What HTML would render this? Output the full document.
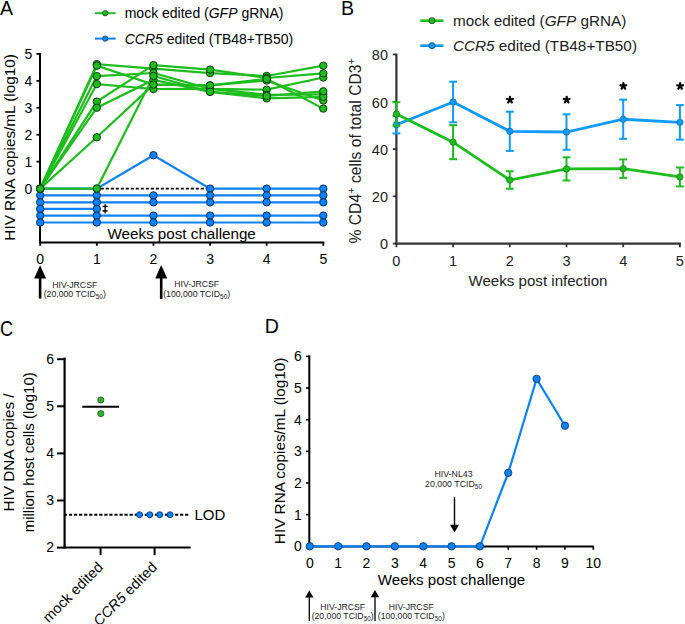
<!DOCTYPE html>
<html><head><meta charset="utf-8"><style>
html,body{margin:0;padding:0;background:#fff;overflow:hidden}
svg{display:block}
</style></head><body>
<svg width="685" height="624" viewBox="0 0 685 624" font-family='"Liberation Sans", sans-serif' fill="#000">
<rect width="685" height="624" fill="#fff"/>
<text x="0" y="15.2" font-size="19.5">A</text>
<line x1="95" y1="13.2" x2="115.7" y2="13.2" stroke="#1dbd1d" stroke-width="2"/>
<circle cx="105.2" cy="13.2" r="2.7" fill="#1dbd1d" stroke="#0d3a0d" stroke-width="0.7"/>
<line x1="95" y1="38.6" x2="115.7" y2="38.6" stroke="#0a82fc" stroke-width="2"/>
<circle cx="105.2" cy="38.6" r="2.7" fill="#0a82fc" stroke="#0a2f5a" stroke-width="0.7"/>
<text x="124.7" y="18.4" font-size="14">mock edited (<tspan font-style="italic">GFP</tspan> gRNA)</text>
<text x="124.7" y="44.1" font-size="14"><tspan font-style="italic">CCR5</tspan> edited (TB48+TB50)</text>
<text transform="translate(14.7,147.4) rotate(-90)" text-anchor="middle" font-size="15.3">HIV RNA copies/mL (log10)</text>
<line x1="40" y1="53.0" x2="40" y2="243.5" stroke="#000" stroke-width="2"/>
<line x1="36.5" y1="188.60" x2="40" y2="188.60" stroke="#000" stroke-width="1.8"/>
<text x="32.3" y="193.60" font-size="14" text-anchor="end">0</text>
<line x1="36.5" y1="161.66" x2="40" y2="161.66" stroke="#000" stroke-width="1.8"/>
<text x="32.3" y="166.66" font-size="14" text-anchor="end">1</text>
<line x1="36.5" y1="134.72" x2="40" y2="134.72" stroke="#000" stroke-width="1.8"/>
<text x="32.3" y="139.72" font-size="14" text-anchor="end">2</text>
<line x1="36.5" y1="107.78" x2="40" y2="107.78" stroke="#000" stroke-width="1.8"/>
<text x="32.3" y="112.78" font-size="14" text-anchor="end">3</text>
<line x1="36.5" y1="80.84" x2="40" y2="80.84" stroke="#000" stroke-width="1.8"/>
<text x="32.3" y="85.84" font-size="14" text-anchor="end">4</text>
<line x1="36.5" y1="53.90" x2="40" y2="53.90" stroke="#000" stroke-width="1.8"/>
<text x="32.3" y="58.90" font-size="14" text-anchor="end">5</text>
<line x1="39" y1="242.5" x2="324.30" y2="242.5" stroke="#000" stroke-width="2"/>
<line x1="40.20" y1="242.5" x2="40.20" y2="245.8" stroke="#000" stroke-width="1.8"/>
<text x="40.20" y="264.4" font-size="14" text-anchor="middle">0</text>
<line x1="96.82" y1="242.5" x2="96.82" y2="245.8" stroke="#000" stroke-width="1.8"/>
<text x="96.82" y="264.4" font-size="14" text-anchor="middle">1</text>
<line x1="153.44" y1="242.5" x2="153.44" y2="245.8" stroke="#000" stroke-width="1.8"/>
<text x="153.44" y="264.4" font-size="14" text-anchor="middle">2</text>
<line x1="210.06" y1="242.5" x2="210.06" y2="245.8" stroke="#000" stroke-width="1.8"/>
<text x="210.06" y="264.4" font-size="14" text-anchor="middle">3</text>
<line x1="266.68" y1="242.5" x2="266.68" y2="245.8" stroke="#000" stroke-width="1.8"/>
<text x="266.68" y="264.4" font-size="14" text-anchor="middle">4</text>
<line x1="323.30" y1="242.5" x2="323.30" y2="245.8" stroke="#000" stroke-width="1.8"/>
<text x="323.30" y="264.4" font-size="14" text-anchor="middle">5</text>
<text x="107.5" y="239.2" font-size="15.2">Weeks post challenge</text>
<polyline points="40.20,188.60 96.82,188.60 153.44,155.20 210.06,188.60 266.68,188.60 323.30,188.60" fill="none" stroke="#0a82fc" stroke-width="2.2"/>
<polyline points="40.20,195.40 96.82,195.40 153.44,195.40 210.06,195.40 266.68,195.40 323.30,195.40" fill="none" stroke="#0a82fc" stroke-width="2.2"/>
<polyline points="40.20,202.30 96.82,202.30 153.44,202.30 210.06,202.30 266.68,202.30 323.30,202.30" fill="none" stroke="#0a82fc" stroke-width="2.2"/>
<polyline points="40.20,208.90 96.82,208.90" fill="none" stroke="#0a82fc" stroke-width="2.2"/>
<polyline points="40.20,215.60 96.82,215.60 153.44,215.60 210.06,215.60 266.68,215.60 323.30,215.60" fill="none" stroke="#0a82fc" stroke-width="2.2"/>
<polyline points="40.20,222.50 96.82,222.50 153.44,222.50 210.06,222.50 266.68,222.50 323.30,222.50" fill="none" stroke="#0a82fc" stroke-width="2.2"/>
<circle cx="40.20" cy="188.60" r="3.7" fill="#0a82fc" stroke="#0a2f5a" stroke-width="1"/>
<circle cx="96.82" cy="188.60" r="3.7" fill="#0a82fc" stroke="#0a2f5a" stroke-width="1"/>
<circle cx="153.44" cy="155.20" r="3.7" fill="#0a82fc" stroke="#0a2f5a" stroke-width="1"/>
<circle cx="210.06" cy="188.60" r="3.7" fill="#0a82fc" stroke="#0a2f5a" stroke-width="1"/>
<circle cx="266.68" cy="188.60" r="3.7" fill="#0a82fc" stroke="#0a2f5a" stroke-width="1"/>
<circle cx="323.30" cy="188.60" r="3.7" fill="#0a82fc" stroke="#0a2f5a" stroke-width="1"/>
<circle cx="40.20" cy="195.40" r="3.7" fill="#0a82fc" stroke="#0a2f5a" stroke-width="1"/>
<circle cx="96.82" cy="195.40" r="3.7" fill="#0a82fc" stroke="#0a2f5a" stroke-width="1"/>
<circle cx="153.44" cy="195.40" r="3.7" fill="#0a82fc" stroke="#0a2f5a" stroke-width="1"/>
<circle cx="210.06" cy="195.40" r="3.7" fill="#0a82fc" stroke="#0a2f5a" stroke-width="1"/>
<circle cx="266.68" cy="195.40" r="3.7" fill="#0a82fc" stroke="#0a2f5a" stroke-width="1"/>
<circle cx="323.30" cy="195.40" r="3.7" fill="#0a82fc" stroke="#0a2f5a" stroke-width="1"/>
<circle cx="40.20" cy="202.30" r="3.7" fill="#0a82fc" stroke="#0a2f5a" stroke-width="1"/>
<circle cx="96.82" cy="202.30" r="3.7" fill="#0a82fc" stroke="#0a2f5a" stroke-width="1"/>
<circle cx="153.44" cy="202.30" r="3.7" fill="#0a82fc" stroke="#0a2f5a" stroke-width="1"/>
<circle cx="210.06" cy="202.30" r="3.7" fill="#0a82fc" stroke="#0a2f5a" stroke-width="1"/>
<circle cx="266.68" cy="202.30" r="3.7" fill="#0a82fc" stroke="#0a2f5a" stroke-width="1"/>
<circle cx="323.30" cy="202.30" r="3.7" fill="#0a82fc" stroke="#0a2f5a" stroke-width="1"/>
<circle cx="40.20" cy="208.90" r="3.7" fill="#0a82fc" stroke="#0a2f5a" stroke-width="1"/>
<circle cx="96.82" cy="208.90" r="3.7" fill="#0a82fc" stroke="#0a2f5a" stroke-width="1"/>
<circle cx="40.20" cy="215.60" r="3.7" fill="#0a82fc" stroke="#0a2f5a" stroke-width="1"/>
<circle cx="96.82" cy="215.60" r="3.7" fill="#0a82fc" stroke="#0a2f5a" stroke-width="1"/>
<circle cx="153.44" cy="215.60" r="3.7" fill="#0a82fc" stroke="#0a2f5a" stroke-width="1"/>
<circle cx="210.06" cy="215.60" r="3.7" fill="#0a82fc" stroke="#0a2f5a" stroke-width="1"/>
<circle cx="266.68" cy="215.60" r="3.7" fill="#0a82fc" stroke="#0a2f5a" stroke-width="1"/>
<circle cx="323.30" cy="215.60" r="3.7" fill="#0a82fc" stroke="#0a2f5a" stroke-width="1"/>
<circle cx="40.20" cy="222.50" r="3.7" fill="#0a82fc" stroke="#0a2f5a" stroke-width="1"/>
<circle cx="96.82" cy="222.50" r="3.7" fill="#0a82fc" stroke="#0a2f5a" stroke-width="1"/>
<circle cx="153.44" cy="222.50" r="3.7" fill="#0a82fc" stroke="#0a2f5a" stroke-width="1"/>
<circle cx="210.06" cy="222.50" r="3.7" fill="#0a82fc" stroke="#0a2f5a" stroke-width="1"/>
<circle cx="266.68" cy="222.50" r="3.7" fill="#0a82fc" stroke="#0a2f5a" stroke-width="1"/>
<circle cx="323.30" cy="222.50" r="3.7" fill="#0a82fc" stroke="#0a2f5a" stroke-width="1"/>
<line x1="100.82" y1="188.6" x2="206.06" y2="188.6" stroke="#000" stroke-width="1.7" stroke-dasharray="3,2"/>
<line x1="105.1" y1="204.3" x2="105.1" y2="213.6" stroke="#000" stroke-width="1.3"/>
<line x1="102.6" y1="206.4" x2="107.6" y2="206.4" stroke="#000" stroke-width="1.5"/>
<line x1="102.6" y1="210.9" x2="107.6" y2="210.9" stroke="#000" stroke-width="1.5"/>
<polyline points="40.20,188.60 96.82,64.10 153.44,68.70 210.06,73.10 266.68,76.00 323.30,65.70" fill="none" stroke="#1dbd1d" stroke-width="2.2"/>
<polyline points="40.20,188.60 96.82,65.70 153.44,84.60 210.06,85.40 266.68,80.50 323.30,100.50" fill="none" stroke="#1dbd1d" stroke-width="2.2"/>
<polyline points="40.20,188.60 96.82,76.10 153.44,73.00 210.06,88.90 266.68,89.70 323.30,77.50" fill="none" stroke="#1dbd1d" stroke-width="2.2"/>
<polyline points="40.20,188.60 96.82,84.10 153.44,89.00 210.06,88.90 266.68,94.80 323.30,94.30" fill="none" stroke="#1dbd1d" stroke-width="2.2"/>
<polyline points="40.20,188.60 96.82,101.60 153.44,65.10 210.06,69.60 266.68,78.00 323.30,73.40" fill="none" stroke="#1dbd1d" stroke-width="2.2"/>
<polyline points="40.20,188.60 96.82,107.70 153.44,80.00 210.06,91.80 266.68,98.40 323.30,96.90" fill="none" stroke="#1dbd1d" stroke-width="2.2"/>
<polyline points="40.20,188.60 96.82,137.30 153.44,84.60 210.06,85.40 266.68,79.00 323.30,108.60" fill="none" stroke="#1dbd1d" stroke-width="2.2"/>
<polyline points="40.20,188.60 96.82,188.60 153.44,76.00 210.06,91.80 266.68,96.00 323.30,91.30" fill="none" stroke="#1dbd1d" stroke-width="2.2"/>
<circle cx="40.20" cy="188.60" r="3.7" fill="#1dbd1d" stroke="#0d3a0d" stroke-width="1"/>
<circle cx="96.82" cy="64.10" r="3.7" fill="#1dbd1d" stroke="#0d3a0d" stroke-width="1"/>
<circle cx="153.44" cy="68.70" r="3.7" fill="#1dbd1d" stroke="#0d3a0d" stroke-width="1"/>
<circle cx="210.06" cy="73.10" r="3.7" fill="#1dbd1d" stroke="#0d3a0d" stroke-width="1"/>
<circle cx="266.68" cy="76.00" r="3.7" fill="#1dbd1d" stroke="#0d3a0d" stroke-width="1"/>
<circle cx="323.30" cy="65.70" r="3.7" fill="#1dbd1d" stroke="#0d3a0d" stroke-width="1"/>
<circle cx="40.20" cy="188.60" r="3.7" fill="#1dbd1d" stroke="#0d3a0d" stroke-width="1"/>
<circle cx="96.82" cy="65.70" r="3.7" fill="#1dbd1d" stroke="#0d3a0d" stroke-width="1"/>
<circle cx="153.44" cy="84.60" r="3.7" fill="#1dbd1d" stroke="#0d3a0d" stroke-width="1"/>
<circle cx="210.06" cy="85.40" r="3.7" fill="#1dbd1d" stroke="#0d3a0d" stroke-width="1"/>
<circle cx="266.68" cy="80.50" r="3.7" fill="#1dbd1d" stroke="#0d3a0d" stroke-width="1"/>
<circle cx="323.30" cy="100.50" r="3.7" fill="#1dbd1d" stroke="#0d3a0d" stroke-width="1"/>
<circle cx="40.20" cy="188.60" r="3.7" fill="#1dbd1d" stroke="#0d3a0d" stroke-width="1"/>
<circle cx="96.82" cy="76.10" r="3.7" fill="#1dbd1d" stroke="#0d3a0d" stroke-width="1"/>
<circle cx="153.44" cy="73.00" r="3.7" fill="#1dbd1d" stroke="#0d3a0d" stroke-width="1"/>
<circle cx="210.06" cy="88.90" r="3.7" fill="#1dbd1d" stroke="#0d3a0d" stroke-width="1"/>
<circle cx="266.68" cy="89.70" r="3.7" fill="#1dbd1d" stroke="#0d3a0d" stroke-width="1"/>
<circle cx="323.30" cy="77.50" r="3.7" fill="#1dbd1d" stroke="#0d3a0d" stroke-width="1"/>
<circle cx="40.20" cy="188.60" r="3.7" fill="#1dbd1d" stroke="#0d3a0d" stroke-width="1"/>
<circle cx="96.82" cy="84.10" r="3.7" fill="#1dbd1d" stroke="#0d3a0d" stroke-width="1"/>
<circle cx="153.44" cy="89.00" r="3.7" fill="#1dbd1d" stroke="#0d3a0d" stroke-width="1"/>
<circle cx="210.06" cy="88.90" r="3.7" fill="#1dbd1d" stroke="#0d3a0d" stroke-width="1"/>
<circle cx="266.68" cy="94.80" r="3.7" fill="#1dbd1d" stroke="#0d3a0d" stroke-width="1"/>
<circle cx="323.30" cy="94.30" r="3.7" fill="#1dbd1d" stroke="#0d3a0d" stroke-width="1"/>
<circle cx="40.20" cy="188.60" r="3.7" fill="#1dbd1d" stroke="#0d3a0d" stroke-width="1"/>
<circle cx="96.82" cy="101.60" r="3.7" fill="#1dbd1d" stroke="#0d3a0d" stroke-width="1"/>
<circle cx="153.44" cy="65.10" r="3.7" fill="#1dbd1d" stroke="#0d3a0d" stroke-width="1"/>
<circle cx="210.06" cy="69.60" r="3.7" fill="#1dbd1d" stroke="#0d3a0d" stroke-width="1"/>
<circle cx="266.68" cy="78.00" r="3.7" fill="#1dbd1d" stroke="#0d3a0d" stroke-width="1"/>
<circle cx="323.30" cy="73.40" r="3.7" fill="#1dbd1d" stroke="#0d3a0d" stroke-width="1"/>
<circle cx="40.20" cy="188.60" r="3.7" fill="#1dbd1d" stroke="#0d3a0d" stroke-width="1"/>
<circle cx="96.82" cy="107.70" r="3.7" fill="#1dbd1d" stroke="#0d3a0d" stroke-width="1"/>
<circle cx="153.44" cy="80.00" r="3.7" fill="#1dbd1d" stroke="#0d3a0d" stroke-width="1"/>
<circle cx="210.06" cy="91.80" r="3.7" fill="#1dbd1d" stroke="#0d3a0d" stroke-width="1"/>
<circle cx="266.68" cy="98.40" r="3.7" fill="#1dbd1d" stroke="#0d3a0d" stroke-width="1"/>
<circle cx="323.30" cy="96.90" r="3.7" fill="#1dbd1d" stroke="#0d3a0d" stroke-width="1"/>
<circle cx="40.20" cy="188.60" r="3.7" fill="#1dbd1d" stroke="#0d3a0d" stroke-width="1"/>
<circle cx="96.82" cy="137.30" r="3.7" fill="#1dbd1d" stroke="#0d3a0d" stroke-width="1"/>
<circle cx="153.44" cy="84.60" r="3.7" fill="#1dbd1d" stroke="#0d3a0d" stroke-width="1"/>
<circle cx="210.06" cy="85.40" r="3.7" fill="#1dbd1d" stroke="#0d3a0d" stroke-width="1"/>
<circle cx="266.68" cy="79.00" r="3.7" fill="#1dbd1d" stroke="#0d3a0d" stroke-width="1"/>
<circle cx="323.30" cy="108.60" r="3.7" fill="#1dbd1d" stroke="#0d3a0d" stroke-width="1"/>
<circle cx="40.20" cy="188.60" r="3.7" fill="#1dbd1d" stroke="#0d3a0d" stroke-width="1"/>
<circle cx="96.82" cy="188.60" r="3.7" fill="#1dbd1d" stroke="#0d3a0d" stroke-width="1"/>
<circle cx="153.44" cy="76.00" r="3.7" fill="#1dbd1d" stroke="#0d3a0d" stroke-width="1"/>
<circle cx="210.06" cy="91.80" r="3.7" fill="#1dbd1d" stroke="#0d3a0d" stroke-width="1"/>
<circle cx="266.68" cy="96.00" r="3.7" fill="#1dbd1d" stroke="#0d3a0d" stroke-width="1"/>
<circle cx="323.30" cy="91.30" r="3.7" fill="#1dbd1d" stroke="#0d3a0d" stroke-width="1"/>
<polygon points="34.10,278.40 46.10,278.40 40.10,265.30" fill="#000"/>
<line x1="40.10" y1="277.90" x2="40.10" y2="298.60" stroke="#000" stroke-width="2.6"/>
<polygon points="155.20,278.40 167.20,278.40 161.20,264.90" fill="#000"/>
<line x1="161.20" y1="277.90" x2="161.20" y2="299.00" stroke="#000" stroke-width="2.6"/>
<text x="74.80" y="288.00" font-size="8.7" text-anchor="middle" fill="#222">HIV-JRCSF</text>
<text x="74.80" y="297.20" font-size="8.7" text-anchor="middle" fill="#222">(20,000 TCID<tspan font-size="6.5" dy="2">50</tspan><tspan dy="-2">)</tspan></text>
<text x="196.70" y="287.00" font-size="8.7" text-anchor="middle" fill="#222">HIV-JRCSF</text>
<text x="196.70" y="297.20" font-size="8.7" text-anchor="middle" fill="#222">(100,000 TCID<tspan font-size="6.5" dy="2">50</tspan><tspan dy="-2">)</tspan></text>
<text x="340.9" y="15.2" font-size="19.5">B</text>
<line x1="420.3" y1="20.7" x2="443.5" y2="20.7" stroke="#1ebd1e" stroke-width="2.6"/>
<circle cx="432" cy="20.7" r="3" fill="#1ebd1e" stroke="#0f500f" stroke-width="0.9"/>
<line x1="420.3" y1="45.7" x2="443.5" y2="45.7" stroke="#0e9bfd" stroke-width="2.6"/>
<circle cx="432" cy="45.7" r="3" fill="#0e9bfd" stroke="#0d4a80" stroke-width="0.9"/>
<text x="452.9" y="25.5" font-size="15.3" fill="#222">mock edited (<tspan font-style="italic">GFP</tspan> gRNA)</text>
<text x="452.9" y="50.5" font-size="15.3" fill="#222"><tspan font-style="italic">CCR5</tspan> edited (TB48+TB50)</text>
<text transform="translate(361.3,150.8) rotate(-90)" text-anchor="middle" font-size="15.7" fill="#222">% CD4<tspan font-size="11" dy="-6">+</tspan><tspan dy="6"> cells of total CD3</tspan><tspan font-size="11" dy="-6">+</tspan></text>
<line x1="396.4" y1="53.6" x2="396.4" y2="244.6" stroke="#333" stroke-width="2.2"/>
<line x1="392.8" y1="243.60" x2="396.4" y2="243.60" stroke="#333" stroke-width="1.8"/>
<text x="388" y="249.40" font-size="14.5" text-anchor="end" fill="#222">0</text>
<line x1="392.8" y1="196.32" x2="396.4" y2="196.32" stroke="#333" stroke-width="1.8"/>
<text x="388" y="202.12" font-size="14.5" text-anchor="end" fill="#222">20</text>
<line x1="392.8" y1="149.04" x2="396.4" y2="149.04" stroke="#333" stroke-width="1.8"/>
<text x="388" y="154.84" font-size="14.5" text-anchor="end" fill="#222">40</text>
<line x1="392.8" y1="101.76" x2="396.4" y2="101.76" stroke="#333" stroke-width="1.8"/>
<text x="388" y="107.56" font-size="14.5" text-anchor="end" fill="#222">60</text>
<line x1="392.8" y1="54.48" x2="396.4" y2="54.48" stroke="#333" stroke-width="1.8"/>
<text x="388" y="60.28" font-size="14.5" text-anchor="end" fill="#222">80</text>
<line x1="395.3" y1="243.6" x2="680.90" y2="243.6" stroke="#333" stroke-width="2.2"/>
<line x1="396.40" y1="243.6" x2="396.40" y2="247.2" stroke="#333" stroke-width="1.8"/>
<text x="396.40" y="265.7" font-size="14.5" text-anchor="middle" fill="#222">0</text>
<line x1="453.10" y1="243.6" x2="453.10" y2="247.2" stroke="#333" stroke-width="1.8"/>
<text x="453.10" y="265.7" font-size="14.5" text-anchor="middle" fill="#222">1</text>
<line x1="509.80" y1="243.6" x2="509.80" y2="247.2" stroke="#333" stroke-width="1.8"/>
<text x="509.80" y="265.7" font-size="14.5" text-anchor="middle" fill="#222">2</text>
<line x1="566.50" y1="243.6" x2="566.50" y2="247.2" stroke="#333" stroke-width="1.8"/>
<text x="566.50" y="265.7" font-size="14.5" text-anchor="middle" fill="#222">3</text>
<line x1="623.20" y1="243.6" x2="623.20" y2="247.2" stroke="#333" stroke-width="1.8"/>
<text x="623.20" y="265.7" font-size="14.5" text-anchor="middle" fill="#222">4</text>
<line x1="679.90" y1="243.6" x2="679.90" y2="247.2" stroke="#333" stroke-width="1.8"/>
<text x="679.90" y="265.7" font-size="14.5" text-anchor="middle" fill="#222">5</text>
<text x="538" y="286.2" font-size="15.1" text-anchor="middle" fill="#222">Weeks post infection</text>
<line x1="396.40" y1="115.94" x2="396.40" y2="133.44" stroke="#0e9bfd" stroke-width="2"/>
<line x1="392.50" y1="115.94" x2="400.30" y2="115.94" stroke="#0e9bfd" stroke-width="2"/>
<line x1="392.50" y1="133.44" x2="400.30" y2="133.44" stroke="#0e9bfd" stroke-width="2"/>
<line x1="453.10" y1="81.67" x2="453.10" y2="122.33" stroke="#0e9bfd" stroke-width="2"/>
<line x1="449.20" y1="81.67" x2="457.00" y2="81.67" stroke="#0e9bfd" stroke-width="2"/>
<line x1="449.20" y1="122.33" x2="457.00" y2="122.33" stroke="#0e9bfd" stroke-width="2"/>
<line x1="509.80" y1="111.69" x2="509.80" y2="150.93" stroke="#0e9bfd" stroke-width="2"/>
<line x1="505.90" y1="111.69" x2="513.70" y2="111.69" stroke="#0e9bfd" stroke-width="2"/>
<line x1="505.90" y1="150.93" x2="513.70" y2="150.93" stroke="#0e9bfd" stroke-width="2"/>
<line x1="566.50" y1="114.29" x2="566.50" y2="149.75" stroke="#0e9bfd" stroke-width="2"/>
<line x1="562.60" y1="114.29" x2="570.40" y2="114.29" stroke="#0e9bfd" stroke-width="2"/>
<line x1="562.60" y1="149.75" x2="570.40" y2="149.75" stroke="#0e9bfd" stroke-width="2"/>
<line x1="623.20" y1="99.63" x2="623.20" y2="138.87" stroke="#0e9bfd" stroke-width="2"/>
<line x1="619.30" y1="99.63" x2="627.10" y2="99.63" stroke="#0e9bfd" stroke-width="2"/>
<line x1="619.30" y1="138.87" x2="627.10" y2="138.87" stroke="#0e9bfd" stroke-width="2"/>
<line x1="679.90" y1="105.07" x2="679.90" y2="139.58" stroke="#0e9bfd" stroke-width="2"/>
<line x1="676.00" y1="105.07" x2="683.80" y2="105.07" stroke="#0e9bfd" stroke-width="2"/>
<line x1="676.00" y1="139.58" x2="683.80" y2="139.58" stroke="#0e9bfd" stroke-width="2"/>
<polyline points="396.40,124.69 453.10,102.00 509.80,131.31 566.50,132.02 623.20,119.25 679.90,122.33" fill="none" stroke="#0e9bfd" stroke-width="2.8"/>
<circle cx="396.40" cy="124.69" r="3.2" fill="#0e9bfd" stroke="#145a99" stroke-width="0.6"/>
<circle cx="453.10" cy="102.00" r="3.2" fill="#0e9bfd" stroke="#145a99" stroke-width="0.6"/>
<circle cx="509.80" cy="131.31" r="3.2" fill="#0e9bfd" stroke="#145a99" stroke-width="0.6"/>
<circle cx="566.50" cy="132.02" r="3.2" fill="#0e9bfd" stroke="#145a99" stroke-width="0.6"/>
<circle cx="623.20" cy="119.25" r="3.2" fill="#0e9bfd" stroke="#145a99" stroke-width="0.6"/>
<circle cx="679.90" cy="122.33" r="3.2" fill="#0e9bfd" stroke="#145a99" stroke-width="0.6"/>
<line x1="396.40" y1="102.23" x2="396.40" y2="125.87" stroke="#1ebd1e" stroke-width="2"/>
<line x1="392.50" y1="102.23" x2="400.30" y2="102.23" stroke="#1ebd1e" stroke-width="2"/>
<line x1="392.50" y1="125.87" x2="400.30" y2="125.87" stroke="#1ebd1e" stroke-width="2"/>
<line x1="453.10" y1="125.16" x2="453.10" y2="159.21" stroke="#1ebd1e" stroke-width="2"/>
<line x1="449.20" y1="125.16" x2="457.00" y2="125.16" stroke="#1ebd1e" stroke-width="2"/>
<line x1="449.20" y1="159.21" x2="457.00" y2="159.21" stroke="#1ebd1e" stroke-width="2"/>
<line x1="509.80" y1="171.26" x2="509.80" y2="188.76" stroke="#1ebd1e" stroke-width="2"/>
<line x1="505.90" y1="171.26" x2="513.70" y2="171.26" stroke="#1ebd1e" stroke-width="2"/>
<line x1="505.90" y1="188.76" x2="513.70" y2="188.76" stroke="#1ebd1e" stroke-width="2"/>
<line x1="566.50" y1="157.31" x2="566.50" y2="180.48" stroke="#1ebd1e" stroke-width="2"/>
<line x1="562.60" y1="157.31" x2="570.40" y2="157.31" stroke="#1ebd1e" stroke-width="2"/>
<line x1="562.60" y1="180.48" x2="570.40" y2="180.48" stroke="#1ebd1e" stroke-width="2"/>
<line x1="623.20" y1="159.44" x2="623.20" y2="177.88" stroke="#1ebd1e" stroke-width="2"/>
<line x1="619.30" y1="159.44" x2="627.10" y2="159.44" stroke="#1ebd1e" stroke-width="2"/>
<line x1="619.30" y1="177.88" x2="627.10" y2="177.88" stroke="#1ebd1e" stroke-width="2"/>
<line x1="679.90" y1="167.48" x2="679.90" y2="186.39" stroke="#1ebd1e" stroke-width="2"/>
<line x1="676.00" y1="167.48" x2="683.80" y2="167.48" stroke="#1ebd1e" stroke-width="2"/>
<line x1="676.00" y1="186.39" x2="683.80" y2="186.39" stroke="#1ebd1e" stroke-width="2"/>
<polyline points="396.40,114.05 453.10,142.18 509.80,180.01 566.50,168.90 623.20,168.66 679.90,176.94" fill="none" stroke="#1ebd1e" stroke-width="2.8"/>
<circle cx="396.40" cy="114.05" r="3.2" fill="#1ebd1e" stroke="#146614" stroke-width="0.6"/>
<circle cx="453.10" cy="142.18" r="3.2" fill="#1ebd1e" stroke="#146614" stroke-width="0.6"/>
<circle cx="509.80" cy="180.01" r="3.2" fill="#1ebd1e" stroke="#146614" stroke-width="0.6"/>
<circle cx="566.50" cy="168.90" r="3.2" fill="#1ebd1e" stroke="#146614" stroke-width="0.6"/>
<circle cx="623.20" cy="168.66" r="3.2" fill="#1ebd1e" stroke="#146614" stroke-width="0.6"/>
<circle cx="679.90" cy="176.94" r="3.2" fill="#1ebd1e" stroke="#146614" stroke-width="0.6"/>
<path d="M510.00,99.90L510.00,96.90M510.00,99.90L512.85,98.97M510.00,99.90L511.76,102.33M510.00,99.90L508.24,102.33M510.00,99.90L507.15,98.97" stroke="#000" stroke-width="2.3" stroke-linecap="round" fill="none"/>
<path d="M566.70,99.90L566.70,96.90M566.70,99.90L569.55,98.97M566.70,99.90L568.46,102.33M566.70,99.90L564.94,102.33M566.70,99.90L563.85,98.97" stroke="#000" stroke-width="2.3" stroke-linecap="round" fill="none"/>
<path d="M623.40,86.20L623.40,83.20M623.40,86.20L626.25,85.27M623.40,86.20L625.16,88.63M623.40,86.20L621.64,88.63M623.40,86.20L620.55,85.27" stroke="#000" stroke-width="2.3" stroke-linecap="round" fill="none"/>
<path d="M680.10,86.20L680.10,83.20M680.10,86.20L682.95,85.27M680.10,86.20L681.86,88.63M680.10,86.20L678.34,88.63M680.10,86.20L677.25,85.27" stroke="#000" stroke-width="2.3" stroke-linecap="round" fill="none"/>
<text transform="translate(0,336.3) scale(0.83,1)" font-size="22" >C</text>
<text transform="translate(14.4,452.5) rotate(-90)" text-anchor="middle" font-size="15.3">HIV DNA copies /</text>
<text transform="translate(33.6,452.3) rotate(-90)" text-anchor="middle" font-size="15">million host cells (log10)</text>
<line x1="64.6" y1="357.6" x2="64.6" y2="548.5" stroke="#000" stroke-width="2.2"/>
<line x1="57" y1="547.60" x2="64.6" y2="547.60" stroke="#000" stroke-width="2"/>
<text x="54" y="552.40" font-size="14" text-anchor="end">2</text>
<line x1="57" y1="500.50" x2="64.6" y2="500.50" stroke="#000" stroke-width="2"/>
<text x="54" y="505.30" font-size="14" text-anchor="end">3</text>
<line x1="57" y1="453.40" x2="64.6" y2="453.40" stroke="#000" stroke-width="2"/>
<text x="54" y="458.20" font-size="14" text-anchor="end">4</text>
<line x1="57" y1="406.30" x2="64.6" y2="406.30" stroke="#000" stroke-width="2"/>
<text x="54" y="411.10" font-size="14" text-anchor="end">5</text>
<line x1="57" y1="359.20" x2="64.6" y2="359.20" stroke="#000" stroke-width="2"/>
<text x="54" y="364.00" font-size="14" text-anchor="end">6</text>
<line x1="63.5" y1="547.5" x2="190.7" y2="547.5" stroke="#000" stroke-width="2.2"/>
<line x1="100.6" y1="547.5" x2="100.6" y2="555.2" stroke="#000" stroke-width="2"/>
<line x1="154.6" y1="547.5" x2="154.6" y2="555.2" stroke="#000" stroke-width="2"/>
<line x1="63.9" y1="514.8" x2="188.7" y2="514.8" stroke="#000" stroke-width="2.1" stroke-dasharray="3.2,1.85"/>
<line x1="82.3" y1="406.7" x2="119" y2="406.7" stroke="#000" stroke-width="2"/>
<circle cx="100.8" cy="400" r="3.1" fill="#2db52d" stroke="#104010" stroke-width="0.7"/>
<circle cx="100.8" cy="413.6" r="3.1" fill="#2db52d" stroke="#104010" stroke-width="0.7"/>
<circle cx="139.5" cy="514.7" r="3.0" fill="#0a82fc" stroke="#0a2f5a" stroke-width="0.8"/>
<circle cx="149.7" cy="514.7" r="3.0" fill="#0a82fc" stroke="#0a2f5a" stroke-width="0.8"/>
<circle cx="159.7" cy="514.7" r="3.0" fill="#0a82fc" stroke="#0a2f5a" stroke-width="0.8"/>
<circle cx="170" cy="514.7" r="3.0" fill="#0a82fc" stroke="#0a2f5a" stroke-width="0.8"/>
<text x="194.5" y="520" font-size="15">LOD</text>
<text transform="translate(104,568) rotate(-45)" text-anchor="end" font-size="14.5">mock edited</text>
<text transform="translate(158,568) rotate(-45)" text-anchor="end" font-size="14.5"><tspan font-style="italic">CCR5</tspan> edited</text>
<text x="264.8" y="333" font-size="19.6">D</text>
<text transform="translate(284.8,450.9) rotate(-90)" text-anchor="middle" font-size="15.3">HIV RNA copies/mL (log10)</text>
<line x1="309.3" y1="355.4" x2="309.3" y2="547.4" stroke="#000" stroke-width="2"/>
<line x1="306" y1="546.30" x2="309.3" y2="546.30" stroke="#000" stroke-width="1.6"/>
<text x="301.8" y="551.30" font-size="14" text-anchor="end">0</text>
<line x1="306" y1="514.65" x2="309.3" y2="514.65" stroke="#000" stroke-width="1.6"/>
<text x="301.8" y="519.65" font-size="14" text-anchor="end">1</text>
<line x1="306" y1="483.00" x2="309.3" y2="483.00" stroke="#000" stroke-width="1.6"/>
<text x="301.8" y="488.00" font-size="14" text-anchor="end">2</text>
<line x1="306" y1="451.35" x2="309.3" y2="451.35" stroke="#000" stroke-width="1.6"/>
<text x="301.8" y="456.35" font-size="14" text-anchor="end">3</text>
<line x1="306" y1="419.70" x2="309.3" y2="419.70" stroke="#000" stroke-width="1.6"/>
<text x="301.8" y="424.70" font-size="14" text-anchor="end">4</text>
<line x1="306" y1="388.05" x2="309.3" y2="388.05" stroke="#000" stroke-width="1.6"/>
<text x="301.8" y="393.05" font-size="14" text-anchor="end">5</text>
<line x1="306" y1="356.40" x2="309.3" y2="356.40" stroke="#000" stroke-width="1.6"/>
<text x="301.8" y="361.40" font-size="14" text-anchor="end">6</text>
<line x1="308.3" y1="546.4" x2="593.80" y2="546.4" stroke="#000" stroke-width="2"/>
<line x1="309.80" y1="546.4" x2="309.80" y2="549.8" stroke="#000" stroke-width="1.6"/>
<text x="309.80" y="568.2" font-size="14" text-anchor="middle">0</text>
<line x1="338.15" y1="546.4" x2="338.15" y2="549.8" stroke="#000" stroke-width="1.6"/>
<text x="338.15" y="568.2" font-size="14" text-anchor="middle">1</text>
<line x1="366.50" y1="546.4" x2="366.50" y2="549.8" stroke="#000" stroke-width="1.6"/>
<text x="366.50" y="568.2" font-size="14" text-anchor="middle">2</text>
<line x1="394.85" y1="546.4" x2="394.85" y2="549.8" stroke="#000" stroke-width="1.6"/>
<text x="394.85" y="568.2" font-size="14" text-anchor="middle">3</text>
<line x1="423.20" y1="546.4" x2="423.20" y2="549.8" stroke="#000" stroke-width="1.6"/>
<text x="423.20" y="568.2" font-size="14" text-anchor="middle">4</text>
<line x1="451.55" y1="546.4" x2="451.55" y2="549.8" stroke="#000" stroke-width="1.6"/>
<text x="451.55" y="568.2" font-size="14" text-anchor="middle">5</text>
<line x1="479.90" y1="546.4" x2="479.90" y2="549.8" stroke="#000" stroke-width="1.6"/>
<text x="479.90" y="568.2" font-size="14" text-anchor="middle">6</text>
<line x1="508.25" y1="546.4" x2="508.25" y2="549.8" stroke="#000" stroke-width="1.6"/>
<text x="508.25" y="568.2" font-size="14" text-anchor="middle">7</text>
<line x1="536.60" y1="546.4" x2="536.60" y2="549.8" stroke="#000" stroke-width="1.6"/>
<text x="536.60" y="568.2" font-size="14" text-anchor="middle">8</text>
<line x1="564.95" y1="546.4" x2="564.95" y2="549.8" stroke="#000" stroke-width="1.6"/>
<text x="564.95" y="568.2" font-size="14" text-anchor="middle">9</text>
<line x1="593.30" y1="546.4" x2="593.30" y2="549.8" stroke="#000" stroke-width="1.6"/>
<text x="593.30" y="568.2" font-size="14" text-anchor="middle">10</text>
<text x="377.8" y="584.9" font-size="15.1">Weeks post challenge</text>
<polyline points="309.80,546.30 338.15,546.30 366.50,546.30 394.85,546.30 423.20,546.30 451.55,546.30 479.90,546.30 508.25,472.87 536.60,378.87 564.95,425.71" fill="none" stroke="#0a82fc" stroke-width="2.2"/>
<circle cx="309.80" cy="546.30" r="3.7" fill="#0a82fc" stroke="#0a2f5a" stroke-width="0.8"/>
<circle cx="338.15" cy="546.30" r="3.7" fill="#0a82fc" stroke="#0a2f5a" stroke-width="0.8"/>
<circle cx="366.50" cy="546.30" r="3.7" fill="#0a82fc" stroke="#0a2f5a" stroke-width="0.8"/>
<circle cx="394.85" cy="546.30" r="3.7" fill="#0a82fc" stroke="#0a2f5a" stroke-width="0.8"/>
<circle cx="423.20" cy="546.30" r="3.7" fill="#0a82fc" stroke="#0a2f5a" stroke-width="0.8"/>
<circle cx="451.55" cy="546.30" r="3.7" fill="#0a82fc" stroke="#0a2f5a" stroke-width="0.8"/>
<circle cx="479.90" cy="546.30" r="3.7" fill="#0a82fc" stroke="#0a2f5a" stroke-width="0.8"/>
<circle cx="508.25" cy="472.87" r="3.7" fill="#0a82fc" stroke="#0a2f5a" stroke-width="0.8"/>
<circle cx="536.60" cy="378.87" r="3.7" fill="#0a82fc" stroke="#0a2f5a" stroke-width="0.8"/>
<circle cx="564.95" cy="425.71" r="3.7" fill="#0a82fc" stroke="#0a2f5a" stroke-width="0.8"/>
<text x="453.60" y="476.70" font-size="8.8" text-anchor="middle" fill="#222">HIV-NL43</text>
<text x="453.60" y="486.70" font-size="8.8" text-anchor="middle" fill="#222">20,000 TCID<tspan font-size="6.5" dy="2">50</tspan></text>
<line x1="454.5" y1="497.2" x2="454.5" y2="525.5" stroke="#000" stroke-width="1.4"/>
<polygon points="450,524.7 459,524.7 454.5,532.4" fill="#000"/>
<polygon points="305.10,597.40 313.50,597.40 309.30,590.50" fill="#000"/>
<line x1="309.30" y1="596.90" x2="309.30" y2="621.00" stroke="#000" stroke-width="1.3"/>
<polygon points="370.80,597.30 379.20,597.30 375.00,590.10" fill="#000"/>
<line x1="375.00" y1="596.80" x2="375.00" y2="621.00" stroke="#000" stroke-width="1.3"/>
<text x="342.70" y="610.30" font-size="8.7" text-anchor="middle" fill="#222">HIV-JRCSF</text>
<text x="342.70" y="619.00" font-size="8.7" text-anchor="middle" fill="#222">(20,000 TCID<tspan font-size="6.5" dy="2">50</tspan><tspan dy="-2">)</tspan></text>
<text x="411.30" y="609.50" font-size="8.7" text-anchor="middle" fill="#222">HIV-JRCSF</text>
<text x="411.30" y="619.30" font-size="8.7" text-anchor="middle" fill="#222">(100,000 TCID<tspan font-size="6.5" dy="2">50</tspan><tspan dy="-2">)</tspan></text>
</svg>
</body></html>
